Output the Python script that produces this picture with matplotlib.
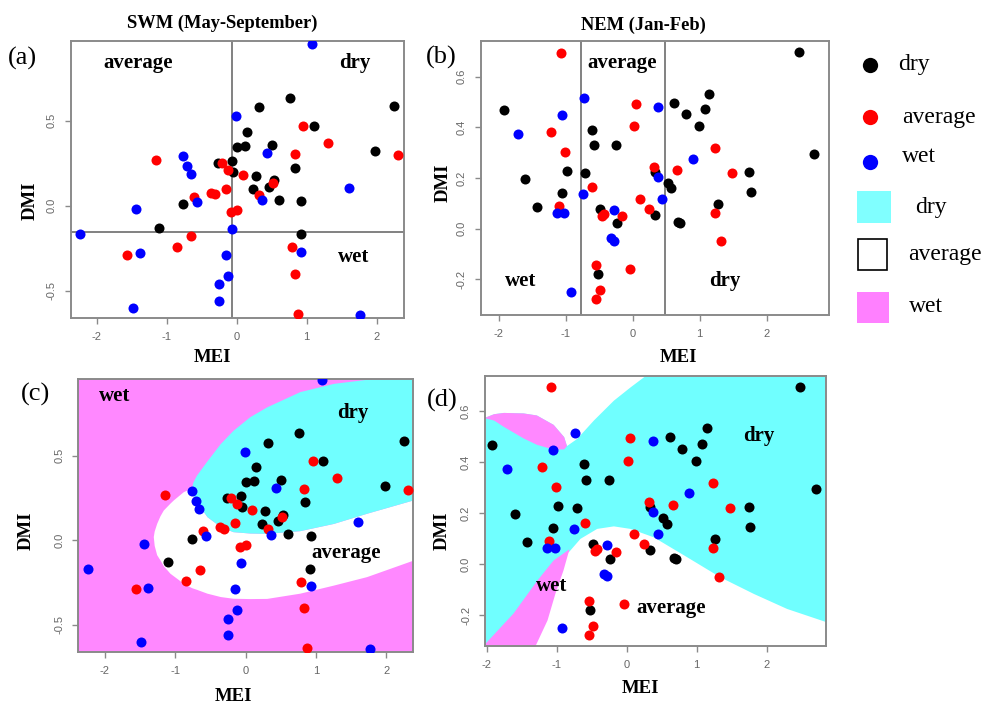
import numpy as np
import matplotlib
matplotlib.use("Agg")
import matplotlib.pyplot as plt
from matplotlib.patches import Rectangle

# ---------------- data: SWM (May-September) ----------------
swm_dry_mei = [0.762, 0.319, 2.252, 0.143, 1.105, 0.010, 0.114, 0.500, 1.976, -0.062, -0.262,
               0.838, -0.048, 0.276, 0.533, 0.457, 0.229, 0.600, 0.924, -0.762, -1.105, 0.914]
swm_dry_dmi = [0.635, 0.578, 0.586, 0.431, 0.467, 0.343, 0.349, 0.355, 0.322, 0.265, 0.253,
               0.224, 0.196, 0.175, 0.151, 0.112, 0.096, 0.035, 0.025, 0.010, -0.131, -0.169]
swm_avg_mei = [-1.148, 0.952, 1.300, 0.829, 2.310, -0.205, -0.129, 0.086, -0.152, 0.524, 0.324,
               -0.610, -0.362, -0.310, -0.086, 0.000, -0.652, -0.848, -1.562, 0.786, 0.829, 0.871]
swm_avg_dmi = [0.271, 0.469, 0.367, 0.306, 0.300, 0.249, 0.212, 0.178, 0.100, 0.135, 0.065,
               0.053, 0.076, 0.067, -0.037, -0.025, -0.176, -0.243, -0.288, -0.245, -0.402, -0.635]
swm_wet_mei = [1.081, -0.005, -0.762, -0.710, -0.657, 0.433, 1.600, -0.567, 0.362, -1.443,
               -2.238, -0.062, -1.381, -0.157, 0.924, -0.124, -0.248, -0.252, -1.486, 1.762]
swm_wet_dmi = [0.949, 0.525, 0.292, 0.233, 0.186, 0.310, 0.106, 0.024, 0.033, -0.022,
               -0.169, -0.137, -0.280, -0.290, -0.271, -0.412, -0.463, -0.559, -0.600, -0.641]
swm_mei_split = -0.067
swm_dmi_split = -0.157

# ---------------- data: NEM (Jan-Feb) ----------------
nem_dry_mei = [2.483, -1.920, 1.144, 0.617, 1.080, 0.791, 0.995, -0.607, -0.577, -0.249, 2.701,
               -1.602, -0.975, -0.706, 0.333, 1.741, 0.522, 0.572, 1.761, -1.050, -1.423, -0.488,
               1.269, 0.338, 0.682, 0.706, -0.239, -0.522]
nem_dry_dmi = [0.696, 0.469, 0.532, 0.497, 0.473, 0.451, 0.404, 0.391, 0.329, 0.329, 0.296,
               0.196, 0.227, 0.219, 0.225, 0.223, 0.179, 0.159, 0.145, 0.142, 0.087, 0.079,
               0.099, 0.054, 0.025, 0.021, 0.021, -0.179]
nem_avg_mei = [-1.075, 0.050, 0.020, -1.214, -1.015, 1.229, 0.323, 0.667, 1.478, -0.602, 0.104,
               0.249, -1.104, -0.453, -0.423, -0.154, 1.229, 1.318, -0.542, -0.040, -0.488, -0.542]
nem_avg_dmi = [0.693, 0.493, 0.404, 0.381, 0.304, 0.319, 0.242, 0.231, 0.219, 0.163, 0.117,
               0.078, 0.091, 0.050, 0.059, 0.049, 0.062, -0.049, -0.144, -0.158, -0.244, -0.278]
nem_wet_mei = [-0.731, 0.378, -1.050, -1.716, 0.896, 0.373, -0.746, 0.443, -1.134, -1.030,
               -0.284, -0.323, -0.279, -0.920]
nem_wet_dmi = [0.516, 0.482, 0.447, 0.373, 0.277, 0.204, 0.136, 0.117, 0.062, 0.062,
               0.074, -0.037, -0.047, -0.249]
nem_mei_splits = [-0.776, 0.488]

# ---------------- classifier zones (c) and (d) ----------------
# (c) SWM: dry zone (ellipse) and average zone; rest is wet
c_dry_mei = [-0.77, -0.75, -0.70, -0.55, -0.36, -0.18, 0.06, 0.30, 0.77, 1.25, 1.72, 2.39]
c_dry_lo = [0.31, 0.27, 0.229, 0.14, 0.081, 0.051, 0.043, 0.041, 0.057, 0.10, 0.16, 0.24]
c_dry_hi = [0.31, 0.345, 0.385, 0.47, 0.573, 0.651, 0.732, 0.79, 0.88, 0.929, 0.953, 0.96]
c_avg_mei = [-1.313, -1.30, -1.265, -1.218, -1.171, -1.076, -1.028, -0.886, -0.77, -0.75, -0.70,
             -0.55, -0.36, -0.18, 0.06, 0.30, 0.77, 1.25, 1.72, 2.39]
c_avg_lo = [0.022, -0.03, -0.085, -0.116, -0.15, -0.195, -0.21, -0.254, -0.28, -0.283, -0.29,
            -0.313, -0.333, -0.343, -0.345, -0.344, -0.313, -0.265, -0.215, -0.116]
c_avg_hi = [0.022, 0.055, 0.10, 0.145, 0.179, 0.22, 0.239, 0.288, 0.31, 0.27, 0.229,
            0.14, 0.081, 0.051, 0.043, 0.041, 0.057, 0.10, 0.16, 0.24]

# (d) NEM: dry is background; average (upper, lower) and wet (upper lens, lower wedge)
d_avg_up_mei = [-2.03, -1.9, -1.76, -1.48, -1.29, -1.05, -0.9, -0.86, -0.714, -0.476, -0.19, 0.048, 0.29]
d_avg_up_lo = [0.576, 0.59, 0.595, 0.593, 0.585, 0.548, 0.5, 0.465, 0.493, 0.565, 0.643, 0.695, 0.745]
d_wet_up_mei = [-2.03, -1.9, -1.76, -1.48, -1.29, -1.05, -0.9, -0.86]
d_wet_up_lo = [0.574, 0.565, 0.54, 0.495, 0.47, 0.451, 0.452, 0.465]
d_wet_up_hi = [0.576, 0.59, 0.595, 0.593, 0.585, 0.548, 0.5, 0.465]
d_wet_lo_mei = [-2.03, -1.624, -1.281, -1.052, -0.852, -0.83]
d_wet_lo_hi = [-0.312, -0.192, -0.062, 0.016, 0.055, 0.06]
d_avg_lo_mei = [-1.31, -1.138, -1.024, -0.910, -0.838, -0.667, -0.429, -0.19, 0.048, 0.381,
                0.857, 1.333, 1.81, 2.286, 2.85]
d_avg_lo_hi = [-0.32, -0.219, -0.113, -0.023, 0.047, 0.101, 0.14, 0.150, 0.14, 0.107,
               0.029, -0.05, -0.115, -0.174, -0.226]

mei_ticks = [-2, -1, 0, 1, 2]
mei_ticklabels = ['-2', '-1', '0', '1', '2']
swm_dmi_ticks = [-0.5, 0.0, 0.5]
swm_dmi_ticklabels = ['-0.5', '0.0', '0.5']
nem_dmi_ticks = [-0.2, 0.0, 0.2, 0.4, 0.6]
nem_dmi_ticklabels = ['-0.2', '0.0', '0.2', '0.4', '0.6']
class_names = ['dry', 'average', 'wet']

# ---------------- styles ----------------
plt.rcParams['font.family'] = ['Liberation Sans', 'DejaVu Sans']
SERIF = ['Liberation Serif', 'DejaVu Serif']
C_DRY, C_AVG, C_WET = '#000000', '#ff0000', '#0000ff'
Z_DRY, Z_AVG, Z_WET = '#70ffff', '#ffffff', '#ff88ff'
FRAME = '#8a8a8a'
TICKC = '#666666'
PT_S = 52

W, H = 987, 704
fig = plt.figure(figsize=(W / 100, H / 100), dpi=100)


def add_ax(l, t, r, b):
    return fig.add_axes([l / W, 1 - b / H, (r - l) / W, (b - t) / H])


def ftext(x, y, s, **kw):
    fig.text(x / W, 1 - y / H, s, **kw)


def style(ax, xlim, ylim, yt, ytl):
    ax.set_xlim(*xlim)
    ax.set_ylim(*ylim)
    ax.set_xticks(mei_ticks)
    ax.set_xticklabels(mei_ticklabels)
    ax.set_yticks(yt)
    ax.set_yticklabels(ytl, rotation=90, va='center')
    for sp in ax.spines.values():
        sp.set_color(FRAME)
        sp.set_linewidth(1.4)
    ax.tick_params(direction='out', length=4, width=1.0, color=FRAME,
                   labelsize=8, labelcolor=TICKC, pad=6)


def points(ax, dry, avg, wet):
    ax.scatter(dry[0], dry[1], s=PT_S, c=C_DRY, linewidths=0, zorder=3)
    ax.scatter(avg[0], avg[1], s=PT_S, c=C_AVG, linewidths=0, zorder=3)
    ax.scatter(wet[0], wet[1], s=PT_S, c=C_WET, linewidths=0, zorder=3)


def label(ax, x, y, s):
    ax.text(x, y, s, family=SERIF, fontweight='bold', fontsize=15,
            ha='center', va='baseline', zorder=4)


swm_pts = ((swm_dry_mei, swm_dry_dmi), (swm_avg_mei, swm_avg_dmi), (swm_wet_mei, swm_wet_dmi))
nem_pts = ((nem_dry_mei, nem_dry_dmi), (nem_avg_mei, nem_avg_dmi), (nem_wet_mei, nem_wet_dmi))

# ---- (a)
axa = add_ax(70.7, 40.7, 404, 318.3)
style(axa, (-2.371, 2.390), (-0.663, 0.971), swm_dmi_ticks, swm_dmi_ticklabels)
axa.axvline(swm_mei_split, color='#777777', lw=1.3, zorder=2)
axa.axhline(swm_dmi_split, color='#777777', lw=1.3, zorder=2)
points(axa, *swm_pts)
label(axa, -1.405, 0.812, 'average')
label(axa, 1.69, 0.812, 'dry')
label(axa, 1.667, -0.333, 'wet')

# ---- (b)
axb = add_ax(480.7, 41.3, 829.3, 315)
style(axb, (-2.269, 2.935), (-0.341, 0.740), nem_dmi_ticks, nem_dmi_ticklabels)
for xs in nem_mei_splits:
    axb.axvline(xs, color='#777777', lw=1.3, zorder=2)
points(axb, *nem_pts)
label(axb, -0.154, 0.636, 'average')
label(axb, -1.667, -0.227, 'wet')
label(axb, 1.368, -0.227, 'dry')

# ---- (c)
axc = add_ax(78.3, 379.3, 413.3, 652.3)
style(axc, (-2.379, 2.384), (-0.663, 0.953), swm_dmi_ticks, swm_dmi_ticklabels)
axc.set_facecolor(Z_WET)
axc.fill_between(c_avg_mei, c_avg_lo, c_avg_hi, color=Z_AVG, lw=0, zorder=1)
axc.fill_between(c_dry_mei, c_dry_lo, c_dry_hi, color=Z_DRY, lw=0, zorder=1.1)
points(axc, *swm_pts)
label(axc, -1.858, 0.826, 'wet')
label(axc, 1.517, 0.722, 'dry')
label(axc, 1.422, -0.107, 'average')

# ---- (d)
axd = add_ax(485, 375.7, 826, 645.7)
style(axd, (-2.024, 2.848), (-0.320, 0.739), nem_dmi_ticks, nem_dmi_ticklabels)
axd.set_facecolor(Z_DRY)
axd.fill_between(d_wet_lo_mei, -1.0, d_wet_lo_hi, color=Z_WET, lw=0, zorder=1)
axd.fill_between(d_avg_lo_mei, -1.0, d_avg_lo_hi, color=Z_AVG, lw=0, zorder=1.1)
axd.fill_between(d_avg_up_mei, d_avg_up_lo, 1.0, color=Z_AVG, lw=0, zorder=1.1)
axd.fill_between(d_wet_up_mei, d_wet_up_lo, d_wet_up_hi, color=Z_WET, lw=0, zorder=1.2)
points(axd, *nem_pts)
label(axd, 1.881, 0.482, 'dry')
label(axd, -1.071, -0.105, 'wet')
label(axd, 0.629, -0.191, 'average')

# ---- titles, panel letters, axis labels
ftext(222, 28.3, 'SWM (May-September)', family=SERIF, fontweight='bold', fontsize=13.3,
      ha='center', va='baseline')
ftext(643, 30, 'NEM (Jan-Feb)', family=SERIF, fontweight='bold', fontsize=13.3,
      ha='center', va='baseline')
for (x, y, s) in [(22, 65, '(a)'), (441, 63.3, '(b)'), (36, 400.7, '(c)'), (442, 406.7, '(d)')]:
    ftext(x, y, s, family=SERIF, fontsize=19, ha='center', va='baseline')
for (x, y) in [(212, 362.5), (678, 362), (233, 700.7), (640, 692.7)]:
    ftext(x, y, 'MEI', family=SERIF, fontweight='bold', fontsize=13.5, ha='center', va='baseline')
for (x, y) in [(30.7, 201), (443, 183), (26.7, 531), (442.7, 531)]:
    ftext(x, y, 'DMI', family=SERIF, fontweight='bold', fontsize=13.5, ha='center',
          va='center', rotation=90)

# ---- legend
axl = add_ax(840, 30, 987, 340)
axl.set_xlim(840, 987)
axl.set_ylim(340, 30)
axl.axis('off')
for (yy, col, name, tx, ty) in [(65, C_DRY, class_names[0], 898, 70),
                                (117, C_AVG, class_names[1], 902, 123.3),
                                (162, C_WET, class_names[2], 902, 161.7)]:
    axl.plot([870], [yy], 'o', color=col, ms=11, mec='none')
    axl.text(tx, ty, name, family=SERIF, fontsize=17, ha='left', va='baseline')
for (x0, y0, w, h, fc, ec, name, tx, ty) in [
        (857, 191, 34, 32, '#80ffff', 'none', class_names[0], 915, 212.7),
        (858, 239, 29, 31, '#ffffff', '#000000', class_names[1], 908, 260),
        (857, 292, 32, 31, '#ff80ff', 'none', class_names[2], 909, 311.7)]:
    axl.add_patch(Rectangle((x0, y0), w, h, facecolor=fc, edgecolor=ec, lw=1.2))
    axl.text(tx, ty, name, family=SERIF, fontsize=17, ha='left', va='baseline')

fig.savefig('out.png', dpi=100)
